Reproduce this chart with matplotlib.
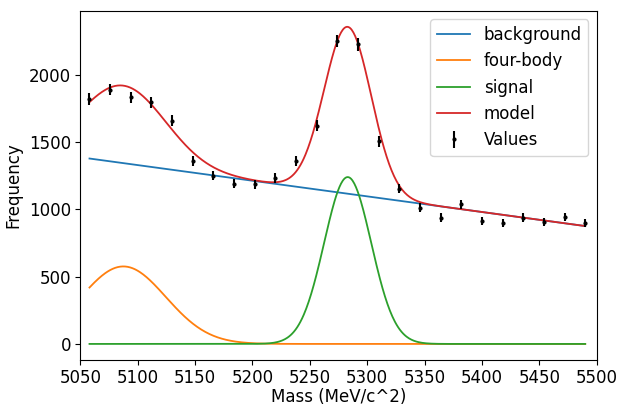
import numpy as np
import matplotlib
matplotlib.use("Agg")
import matplotlib.pyplot as plt

# Binned data (bin centres, counts, errors)
mass = [5058, 5076, 5094, 5112, 5130, 5148, 5166, 5184, 5202, 5220, 5238, 5256, 5274,
        5292, 5310, 5328, 5346, 5364, 5382, 5400, 5418, 5436, 5454, 5472, 5490]
counts = [1819, 1890, 1832, 1795, 1658, 1358, 1251, 1192, 1185, 1232, 1363, 1622, 2251,
          2227, 1505, 1154, 1012, 939, 1037, 914, 900, 939, 905, 941, 902]
errors = [43, 43, 43, 42, 41, 37, 35, 35, 34, 35, 37, 40, 47,
          47, 39, 34, 32, 31, 32, 30, 30, 31, 30, 31, 30]

# Fit component parameters
bg_start, bg_end = 1378, 876          # linear background at first/last bin
fb_amp, fb_mean, fb_sigma = 576, 5087.5, 37.0   # four-body bump
sig_amp, sig_mean, sig_sigma = 1240, 5283, 20.5  # signal peak

x = np.linspace(mass[0], mass[-1], 600)
background = bg_start + (bg_end - bg_start) * (x - mass[0]) / (mass[-1] - mass[0])
fourbody = fb_amp * np.exp(-0.5 * ((x - fb_mean) / fb_sigma) ** 2)
signal = sig_amp * np.exp(-0.5 * ((x - sig_mean) / sig_sigma) ** 2)
model = background + fourbody + signal

fs = 12
fig = plt.figure(figsize=(6.25, 4.07), dpi=100)
ax = fig.add_axes([0.1285, 0.116, 0.8262, 0.857])
lw = 1.3
ax.plot(x, background, label="background", lw=lw)
ax.plot(x, fourbody, label="four-body", lw=lw)
ax.plot(x, signal, label="signal", lw=lw)
ax.plot(x, model, label="model", lw=lw)
ax.errorbar(mass, counts, yerr=errors, fmt="k.", markersize=4, elinewidth=1.5,
            label="Values")
ax.set_xlim(5050, 5500)
ax.set_xticks(np.arange(5050, 5501, 50))
ax.set_yticks([0, 500, 1000, 1500, 2000])
ax.tick_params(labelsize=fs, pad=3)
ax.set_xlabel("Mass (MeV/c^2)", fontsize=fs, labelpad=1)
ax.set_ylabel("Frequency", fontsize=fs, labelpad=5)
ax.legend(loc="upper right", fontsize=fs)
fig.savefig("out.png", dpi=100)
